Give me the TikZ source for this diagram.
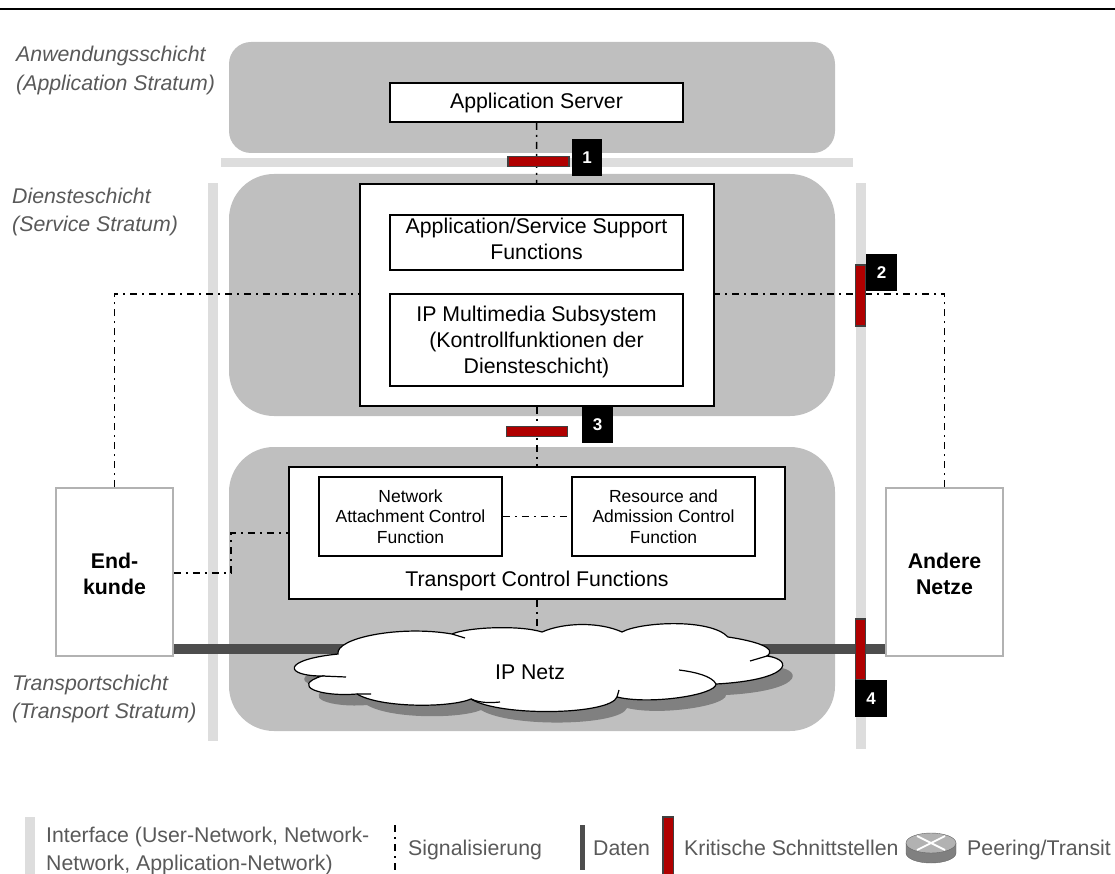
\documentclass[tikz,border=0pt]{standalone}
\usepackage{fontspec}
\setmainfont{Liberation Sans}
\definecolor{layergray}{HTML}{BFBFBF}
\definecolor{bargray}{HTML}{DDDDDD}
\definecolor{datagray}{HTML}{4D4D4D}
\definecolor{critred}{HTML}{B00000}
\definecolor{labelgray}{HTML}{595959}
\newcommand{\cloudline}{(338,654) .. controls (335,638) and (400,625) .. (452,634)
    .. controls (468,627) and (520,625) .. (542,632)
    .. controls (565,622) and (600,622) .. (622,632)
    .. controls (640,622) and (710,618) .. (728,637)
    .. controls (755,641) and (778,648) .. (767,656)
    .. controls (795,660) and (790,680) .. (716,684)
    .. controls (716,695) and (650,705) .. (617,697)
    .. controls (610,715) and (500,717) .. (471,699)
    .. controls (450,708) and (380,708) .. (357,694)
    .. controls (320,697) and (290,686) .. (322,676)
    .. controls (285,676) and (280,660) .. (338,654) -- cycle}
\tikzset{
    layer/.style={fill=layergray,rounded corners=#1,inner sep=0},
    ifbar/.style={fill=bargray,inner sep=0},
    box/.style={draw,line width=1.6pt,fill=white,align=center,inner sep=0,font=\fontsize{21.3}{26}\selectfont},
    boxtext/.style={align=center,inner sep=0,font=\fontsize{21.3}{26}\selectfont},
    smallbox/.style={box,font=\fontsize{17.5}{20.5}\selectfont},
    peer/.style={draw=black!30,line width=1.6pt,fill=white,inner sep=0},
    peertext/.style={align=center,inner sep=0,font=\fontsize{21.3}{26.5}\selectfont\bfseries},
    crit/.style={draw=black!75,line width=1.2pt,fill=critred,inner sep=0},
    tag/.style={fill=black,text=white,inner sep=0,font=\fontsize{17}{17}\selectfont\bfseries},
    strat/.style={anchor=west,align=left,inner sep=0,text=labelgray,font=\fontsize{21.3}{28.8}\selectfont\itshape},
    legend/.style={anchor=base west,align=left,inner sep=0,text=labelgray,font=\fontsize{21.3}{28}\selectfont},
    signal/.style={draw=black,line width=1.5pt,dash pattern=on 7pt off 5pt on 2pt off 5pt},
    data/.style={draw=datagray,line width=10pt}
}
\begin{document}
\begin{tikzpicture}[x=1pt,y=-1pt]
    \useasboundingbox (0,0) rectangle (1115,874);
    \fill[black] (0,8) rectangle (1115,10.5);

    % strata and interface bars
    \node[layer=22pt,minimum width=606pt,minimum height=111pt] (appl) at (532,97.5) {};
    \node[layer=45pt,minimum width=606pt,minimum height=242pt] (serv) at (532,295) {};
    \node[layer=45pt,minimum width=606pt,minimum height=284pt] (tran) at (532,589) {};
    \node[ifbar,minimum width=632pt,minimum height=9pt] (barA) at (537,162.5) {};
    \node[ifbar,minimum width=10pt,minimum height=558pt] (barL) at (213,462) {};
    \node[ifbar,minimum width=10pt,minimum height=566pt] (barR) at (861,466) {};

    \node[strat] (txtA) at (16,70.5) {Anwendungsschicht\\(Application Stratum)};
    \node[strat] (txtD) at (12,212) {Diensteschicht\\(Service Stratum)};
    \node[strat] (txtT) at (12,699) {Transportschicht\\(Transport Stratum)};

    % boxes
    \node[box,minimum width=293pt,minimum height=39pt] (server) at (536.5,102.5) {Application Server};
    \node[box,minimum width=354pt,minimum height=222pt] (ctrl) at (537,295) {};
    \node[box,minimum width=293pt,minimum height=55pt] (supp) at (536.5,242.5) {};
    \node[boxtext] (supptxt) at (536.5,238.5) {Application/Service Support\\Functions};
    \node[box,minimum width=293pt,minimum height=92pt] (ims) at (536.5,340) {};
    \node[boxtext] (imstxt) at (536.5,341.5) {IP Multimedia Subsystem\\(Kontrollfunktionen der\\Diensteschicht)};
    \node[box,minimum width=496pt,minimum height=132pt] (tcf) at (537,533) {};
    \node[boxtext] (tcftxt) at (537,581) {Transport Control Functions};
    \node[smallbox,minimum width=183pt,minimum height=79pt] (nacf) at (410.5,516.5) {Network\\Attachment Control\\Function};
    \node[smallbox,minimum width=183pt,minimum height=79pt] (racf) at (663.5,516.5) {Resource and\\Admission Control\\Function};
    \node[peer,minimum width=117pt,minimum height=168pt] (user) at (114.5,572) {};
    \node[peertext] (usertxt) at (114.5,574) {End-\\kunde};
    \node[peer,minimum width=117pt,minimum height=168pt] (other) at (944.5,572) {};
    \node[peertext] (othertxt) at (944.5,574) {Andere\\Netze};

    % cloud
    \coordinate (top) at (537,630);
    \coordinate (bend1) at (231,573);
    \coordinate (bend2) at (231,533);
    \coordinate (sig) at (0,294);
    \path[signal] (server) -- (ctrl);
    \path[signal] (ctrl) -- (tcf);
    \path[signal] (tcf.south -| top) -- (top);
    \path[signal] (nacf) -- (racf);
    \path[signal] (user.north) |- (ctrl.west |- sig);
    \path[signal] (other.north) |- (ctrl.east |- sig);
    \path[signal] (user.east |- bend1) -- (bend1) -- (bend2) -- (tcf.west |- bend2);
    \path[data] (user.east |- 0,649) -- (other.west |- 0,649);
    \fill[black!50,xshift=10pt,yshift=-11pt] \cloudline;
    \draw[fill=white,line width=1.2pt] \cloudline;
    \draw[line width=1.2pt] (452,634) -- (465,638) (767,656) -- (750,661)
        (716,684) .. controls (712,676) and (695,672) .. (679,670)
        (471,699) .. controls (480,703) and (490,703) .. (500,702)
        (357,694) -- (371,694) (322,676) -- (346,677) (617,697) -- (619,690);
    \node[inner sep=0,font=\fontsize{21.3}{25}\selectfont] (net) at (530,672) {IP Netz};

    % critical interfaces
    \node[crit,minimum width=61pt,minimum height=10pt] (crit1) at (538.5,161.5) {};
    \node[crit,minimum width=10pt,minimum height=61pt] (crit2) at (860.5,295.5) {};
    \node[crit,minimum width=61pt,minimum height=10pt] (crit3) at (537,431.5) {};
    \node[crit,minimum width=10pt,minimum height=61pt] (crit4) at (860.5,649.5) {};
    \node[tag,minimum width=30pt,minimum height=37pt] (tag1) at (587,157.5) {1};
    \node[tag,minimum width=31pt,minimum height=37pt] (tag2) at (881.5,272.5) {2};
    \node[tag,minimum width=31pt,minimum height=37pt] (tag3) at (597.5,424.5) {3};
    \node[tag,minimum width=32pt,minimum height=37pt] (tag4) at (871,698.5) {4};

    % legend
    \fill[bargray] (25,817) rectangle (35,874);
    \node[legend,anchor=west] (lgI) at (46,851) {Interface (User-Network, Network-\\Network, Application-Network)};
    \draw[signal] (395,825) -- (395,874);
    \node[legend] (lgS) at (408,855.5) {Signalisierung};
    \fill[datagray] (580,825) rectangle (585,870);
    \node[legend] (lgD) at (593,855.5) {Daten};
    \draw[crit] (663,817) rectangle (673.5,875);
    \node[legend] (lgK) at (684,855.5) {Kritische Schnittstellen};
    \draw[black!60,fill=black!50] (906,843) -- (906,853) arc[start angle=180,end angle=0,x radius=25,y radius=10] -- (956,843) -- cycle;
    \draw[black!60,fill=black!30] (931,843) ellipse[x radius=25,y radius=10];
    \draw[white,line width=1.8pt] (917,836) -- (945,850) (945,836) -- (917,850);
    \node[legend] (lgP) at (967,855.5) {Peering/Transit};
\end{tikzpicture}
\end{document}
